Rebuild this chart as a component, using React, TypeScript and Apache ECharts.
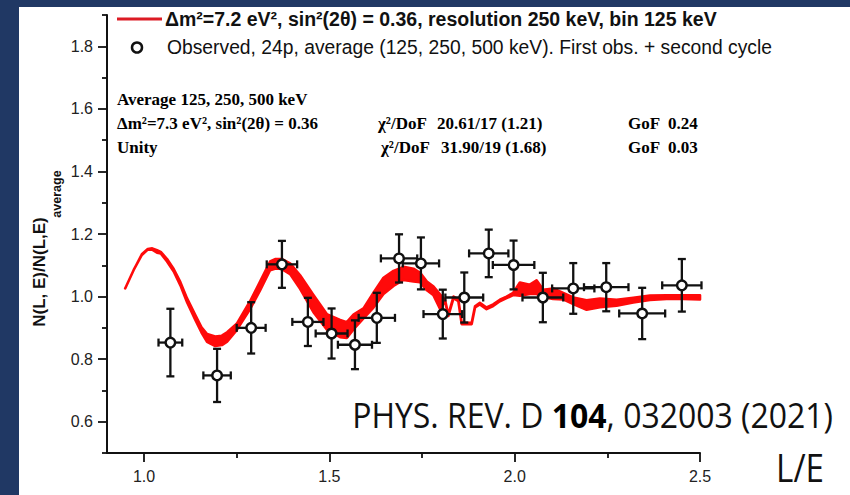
import React, { useEffect, useRef } from 'react';
import * as echarts from 'echarts';

// ---- Data ----
// Model curve (red band): L/E, lower and upper envelope of the jagged line
const curveX = [0.949, 0.972, 0.994, 1.010, 1.022, 1.035, 1.045, 1.062, 1.080, 1.098, 1.116, 1.138, 1.155, 1.170, 1.192, 1.210, 1.224, 1.250, 1.286, 1.313, 1.340, 1.355, 1.372, 1.394, 1.421, 1.457, 1.493, 1.529, 1.547, 1.565, 1.592, 1.619, 1.646, 1.673, 1.700, 1.727, 1.745, 1.763, 1.781, 1.799, 1.812, 1.821, 1.835, 1.848, 1.857, 1.884, 1.893, 1.906, 1.924, 1.942, 1.960, 1.978, 1.996, 2.014, 2.041, 2.059, 2.077, 2.104, 2.131, 2.158, 2.194, 2.230, 2.275, 2.320, 2.365, 2.410, 2.455, 2.500];
const curveLo = [1.026, 1.085, 1.133, 1.150, 1.150, 1.140, 1.138, 1.112, 1.080, 1.036, 0.982, 0.926, 0.885, 0.855, 0.842, 0.845, 0.856, 0.893, 0.960, 1.020, 1.084, 1.090, 1.088, 1.072, 1.025, 0.950, 0.895, 0.870, 0.868, 0.895, 0.930, 0.965, 1.008, 1.034, 1.053, 1.048, 1.046, 1.020, 1.004, 0.960, 0.985, 0.938, 0.995, 0.985, 0.912, 0.912, 0.965, 0.975, 0.960, 0.970, 0.985, 0.995, 1.005, 1.003, 1.008, 1.008, 0.998, 0.992, 0.991, 0.976, 0.958, 0.966, 0.971, 0.981, 0.989, 0.992, 0.992, 0.991];
const curveHi = [1.026, 1.085, 1.135, 1.152, 1.154, 1.148, 1.143, 1.120, 1.088, 1.046, 0.994, 0.942, 0.902, 0.880, 0.872, 0.875, 0.886, 0.913, 0.985, 1.048, 1.112, 1.120, 1.120, 1.106, 1.068, 1.005, 0.944, 0.925, 0.918, 0.942, 0.962, 1.012, 1.060, 1.082, 1.095, 1.089, 1.076, 1.048, 1.032, 1.006, 0.990, 0.942, 1.000, 0.990, 0.916, 0.916, 0.969, 0.980, 0.965, 0.975, 0.990, 1.000, 1.012, 1.045, 1.038, 1.052, 1.022, 1.026, 1.012, 0.997, 0.988, 0.994, 0.990, 0.996, 1.003, 1.004, 1.004, 1.004];

// Observed points
const obsX = [1.071, 1.197, 1.289, 1.372, 1.442, 1.506, 1.569, 1.628, 1.688, 1.747, 1.806, 1.864, 1.930, 1.997, 2.076, 2.158, 2.247, 2.344, 2.451];
const obsY = [0.853, 0.748, 0.900, 1.103, 0.919, 0.882, 0.846, 0.932, 1.122, 1.106, 0.944, 0.997, 1.138, 1.101, 0.997, 1.026, 1.030, 0.946, 1.036];
const obsXErr = [0.032, 0.037, 0.039, 0.041, 0.042, 0.043, 0.046, 0.049, 0.049, 0.049, 0.052, 0.051, 0.053, 0.056, 0.055, 0.057, 0.060, 0.062, 0.053];
const obsYErr = [0.108, 0.085, 0.082, 0.075, 0.077, 0.080, 0.078, 0.080, 0.077, 0.083, 0.078, 0.080, 0.076, 0.078, 0.079, 0.081, 0.077, 0.082, 0.084];

// Axis ticks
const xMajorTicks = [1.0, 1.5, 2.0, 2.5];
const xMinorTicks = [1.25, 1.75, 2.25];
const yLabelValues = [0.6, 0.8, 1.0, 1.2, 1.4, 1.6, 1.8];

// Texts
const legendCurveText = 'Δm²=7.2 eV², sin²(2θ) = 0.36, resolution 250 keV, bin 125 keV';
const legendObsText = 'Observed, 24p, average (125, 250, 500 keV). First obs. + second cycle';
const fitTitle = 'Average 125, 250, 500 keV';
const fitLabels = ['Δm²=7.3 eV², sin²(2θ) = 0.36', 'Unity'];
const fitChi = ['20.61/17 (1.21)', '31.90/19 (1.68)'];
const fitGoF = ['0.24', '0.03'];
const yNameMain = 'N(L, E)/N(L,E)';
const yNameSub = 'average';
const xName = 'L/E';

const SANS = '"Liberation Sans", Arial, sans-serif';
const SERIF = '"Liberation Serif", "Times New Roman", serif';
const CAL = '"Open Sans", "Noto Sans", sans-serif';
const RED = '#ff0a0a';
const INK = '#111111';

export default function App() {
  const ref = useRef<HTMLDivElement>(null);
  useEffect(() => {
    if (!ref.current) return;
    const chart = echarts.init(ref.current, undefined, { renderer: 'svg' });

    const axisLineStyle = { color: INK, width: 2 };
    const tickStyle = { color: INK, width: 1.8 };
    const labelStyle = { fontSize: 16, color: '#222', fontFamily: SANS };

    const serifBold = (text: string, x: number, y: number) => ({
      type: 'text', x, y,
      style: { text, fontFamily: SERIF, fontWeight: 'bold', fontSize: 17, fill: '#000', verticalAlign: 'middle' },
    });

    const option: any = {
      animation: false,
      backgroundColor: '#203864',
      grid: { left: 107, right: 150, top: 15, bottom: 42, containLabel: false, outerBoundsMode: 'none' },
      xAxis: [
        {
          type: 'value', min: 0.9, max: 2.5, position: 'bottom',
          axisLine: { show: true, onZero: false, lineStyle: axisLineStyle },
          axisTick: { show: true, inside: false, customValues: xMajorTicks, length: 9, lineStyle: tickStyle },
          axisLabel: { show: true, customValues: xMajorTicks, formatter: (v: number) => v.toFixed(1), margin: 15, ...labelStyle },
          splitLine: { show: false },
        },
        {
          type: 'value', min: 0.9, max: 2.5, position: 'bottom',
          axisLine: { show: false },
          axisTick: { show: true, inside: false, customValues: xMinorTicks, length: 5, lineStyle: tickStyle },
          axisLabel: { show: false },
          splitLine: { show: false },
        },
      ],
      yAxis: [
        {
          // regular ticks (0.5, 0.7, ... 1.9) are the short ones; minor ticks (0.6 ... 1.8) the long, labelled ones
          type: 'value', min: 0.5, max: 1.9, interval: 0.2, position: 'left',
          axisLine: { show: true, onZero: false, lineStyle: axisLineStyle },
          axisTick: { show: true, inside: false, length: 5, lineStyle: tickStyle },
          minorTick: { show: true, splitNumber: 2, length: 9, lineStyle: tickStyle },
          axisLabel: { show: true, customValues: yLabelValues, formatter: (v: number) => v.toFixed(1), margin: 14, ...labelStyle },
          splitLine: { show: false },
          minorSplitLine: { show: false },
        },
      ],
      series: [
        {
          type: 'custom',
          name: 'model',
          xAxisIndex: 0, yAxisIndex: 0,
          data: curveX.map((x, i) => [x, curveLo[i], curveHi[i]]),
          encode: { x: 0, y: [1, 2] },
          z: 2,
          renderItem: (params: any, api: any) => {
            if (params.dataIndex !== 0) return null;
            const upper = curveX.map((x, i) => api.coord([x, curveHi[i]]));
            const lower = curveX.map((x, i) => api.coord([x, curveLo[i]])).reverse();
            return {
              type: 'polygon',
              shape: { points: upper.concat(lower) },
              style: { fill: RED, stroke: RED, lineWidth: 2.6, lineJoin: 'round' },
            };
          },
        },
        {
          type: 'custom',
          name: 'errors',
          xAxisIndex: 0, yAxisIndex: 0,
          data: obsX.map((x, i) => [x, obsY[i], obsXErr[i], obsYErr[i]]),
          encode: { x: 0, y: 1 },
          z: 3,
          renderItem: (params: any, api: any) => {
            const x = api.value(0), y = api.value(1), ex = api.value(2), ey = api.value(3);
            const c = api.coord([x, y]);
            const l = api.coord([x - ex, y]);
            const r = api.coord([x + ex, y]);
            const t = api.coord([x, y + ey]);
            const b = api.coord([x, y - ey]);
            const cap = 4;
            const st = { stroke: INK, lineWidth: 2.3 };
            return {
              type: 'group',
              children: [
                { type: 'line', shape: { x1: l[0], y1: c[1], x2: r[0], y2: c[1] }, style: st },
                { type: 'line', shape: { x1: c[0], y1: t[1], x2: c[0], y2: b[1] }, style: st },
                { type: 'line', shape: { x1: l[0], y1: c[1] - cap, x2: l[0], y2: c[1] + cap }, style: st },
                { type: 'line', shape: { x1: r[0], y1: c[1] - cap, x2: r[0], y2: c[1] + cap }, style: st },
                { type: 'line', shape: { x1: c[0] - cap, y1: t[1], x2: c[0] + cap, y2: t[1] }, style: st },
                { type: 'line', shape: { x1: c[0] - cap, y1: b[1], x2: c[0] + cap, y2: b[1] }, style: st },
              ],
            };
          },
        },
        {
          type: 'scatter',
          name: 'observed',
          xAxisIndex: 0, yAxisIndex: 0,
          data: obsX.map((x, i) => [x, obsY[i]]),
          symbol: 'circle',
          symbolSize: 9.5,
          itemStyle: { color: '#ffffff', borderColor: INK, borderWidth: 2.4, opacity: 1 },
          z: 5,
        },
      ],
      graphic: [
        { type: 'rect', z: -100, silent: true, shape: { x: 19, y: 7, width: 831, height: 488 }, style: { fill: '#ffffff' } },
        // legend
        { type: 'line', shape: { x1: 117, y1: 19, x2: 162, y2: 19 }, style: { stroke: '#dc1b24', lineWidth: 3 } },
        { type: 'text', x: 165, y: 19, style: { text: legendCurveText, fontFamily: SANS, fontWeight: 'bold', fontSize: 19.5, fill: '#111', verticalAlign: 'middle' } },
        { type: 'circle', shape: { cx: 137, cy: 47.5, r: 5 }, style: { fill: '#fff', stroke: INK, lineWidth: 2.5 } },
        { type: 'text', x: 167, y: 47.5, style: { text: legendObsText, fontFamily: SANS, fontSize: 19.3, fill: '#111', verticalAlign: 'middle' } },
        // fit annotations
        serifBold(fitTitle, 117, 99),
        serifBold(fitLabels[0], 117, 123),
        serifBold(fitLabels[1], 117, 147),
        serifBold('χ²/DoF', 378, 123),
        serifBold(fitChi[0], 437, 123),
        serifBold('GoF', 628, 123),
        serifBold(fitGoF[0], 668, 123),
        serifBold('χ²/DoF', 381, 147),
        serifBold(fitChi[1], 441, 147),
        serifBold('GoF', 628, 147),
        serifBold(fitGoF[1], 668, 147),
        // y axis name
        { type: 'text', x: 39, y: 272, rotation: Math.PI / 2, style: { text: yNameMain, fontFamily: SANS, fontWeight: 'bold', fontSize: 17, fill: '#111', align: 'center', verticalAlign: 'middle' } },
        { type: 'text', x: 57, y: 194, rotation: Math.PI / 2, style: { text: yNameSub, fontFamily: SANS, fontWeight: 'bold', fontSize: 12.5, fill: '#111', align: 'center', verticalAlign: 'middle' } },
        // citation
        {
          type: 'text', x: 833, y: 415, scaleX: 0.94,
          style: {
            text: '{n|PHYS. REV. D }{b|104}{n|, 032003 (2021)}',
            align: 'right', verticalAlign: 'middle',
            rich: {
              n: { fontFamily: CAL, fontSize: 34, fill: '#111' },
              b: { fontFamily: CAL, fontSize: 34, fontWeight: 'bold', fill: '#000' },
            },
          },
        },
        { type: 'text', x: 824, y: 467, scaleX: 0.85, style: { text: xName, fontFamily: CAL, fontSize: 39, fill: '#111', align: 'right', verticalAlign: 'middle' } },
      ],
    };

    chart.setOption(option);
    return () => chart.dispose();
  }, []);

  return <div ref={ref} style={{ position: 'fixed', left: 0, top: 0, width: 850, height: 495 }} />;
}
